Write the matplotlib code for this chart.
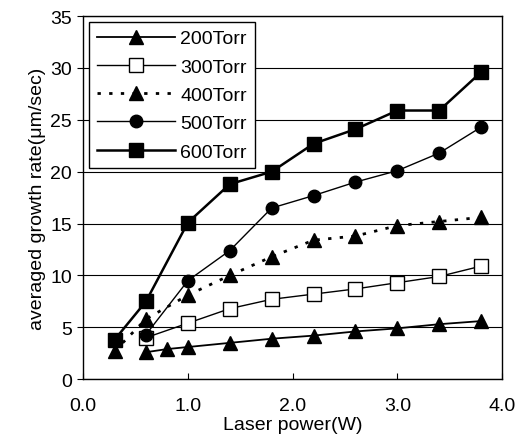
import matplotlib
matplotlib.use("Agg")
import matplotlib.pyplot as plt

plt.rcParams['font.family'] = ['Liberation Sans', 'DejaVu Sans']

# laser power (W)
x_200 = [0.6, 0.8, 1.0, 1.4, 1.8, 2.2, 2.6, 3.0, 3.4, 3.8]
x_300 = [0.6, 1.0, 1.4, 1.8, 2.2, 2.6, 3.0, 3.4, 3.8]
x_400 = [0.3, 0.6, 1.0, 1.4, 1.8, 2.2, 2.6, 3.0, 3.4, 3.8]
x_500 = [0.6, 1.0, 1.4, 1.8, 2.2, 2.6, 3.0, 3.4, 3.8]
x_600 = [0.3, 0.6, 1.0, 1.4, 1.8, 2.2, 2.6, 3.0, 3.4, 3.8]

# averaged growth rate (um/sec)
y_200 = [2.6, 2.9, 3.1, 3.5, 3.9, 4.2, 4.6, 4.9, 5.3, 5.6]
y_300 = [4.0, 5.4, 6.8, 7.7, 8.2, 8.7, 9.3, 9.9, 10.9]
y_400 = [2.7, 5.8, 8.1, 10.0, 11.8, 13.4, 13.8, 14.8, 15.2, 15.6]
y_500 = [4.3, 9.5, 12.4, 16.5, 17.7, 19.0, 20.1, 21.8, 24.3]
y_600 = [3.8, 7.5, 15.1, 18.8, 20.0, 22.7, 24.1, 25.9, 25.9, 29.6]

fig = plt.figure(figsize=(5.23, 4.39), dpi=100)
ax = fig.add_axes([0.159, 0.134, 0.801, 0.827])

ax.plot(x_200, y_200, '-', color='black', lw=1.3, marker='^', ms=10, label='200Torr', zorder=3)
ax.plot(x_300, y_300, '-', color='black', lw=1.0, marker='s', ms=10,
        mfc='white', mew=1.0, label='300Torr', zorder=3)
ax.plot(x_400, y_400, color='black', lw=2.0, ls=(0, (1.2, 3)), marker='^', ms=10,
        label='400Torr', zorder=3)
ax.plot(x_500, y_500, '-', color='black', lw=1.0, marker='o', ms=9, label='500Torr', zorder=3)
ax.plot(x_600, y_600, '-', color='black', lw=1.8, marker='s', ms=10, label='600Torr', zorder=3)

ax.set_xlim(0, 4)
ax.set_ylim(0, 35)
ax.set_xticks([0, 1, 2, 3, 4])
ax.set_xticklabels(['0.0', '1.0', '2.0', '3.0', '4.0'])
ax.set_yticks(range(0, 36, 5))
ax.tick_params(axis='x', direction='in', length=4, labelsize=14, pad=13)
ax.tick_params(axis='y', direction='out', length=4, labelsize=14, pad=4)

ax.yaxis.grid(True, color='black', lw=0.8)
ax.set_axisbelow(True)
for s in ax.spines.values():
    s.set_linewidth(1.0)

ax.set_xlabel('Laser power(W)', fontsize=14, labelpad=1)
ax.set_ylabel('averaged growth rate(μm/sec)', fontsize=14, labelpad=3)

leg = ax.legend(loc='upper left', fontsize=14, handlelength=4.0, frameon=True,
                fancybox=False, edgecolor='black', framealpha=1,
                borderaxespad=0.3, labelspacing=0.55, handletextpad=0.3,
                borderpad=0.4)
leg.get_frame().set_linewidth(1.0)

fig.savefig('out.png', dpi=100)
